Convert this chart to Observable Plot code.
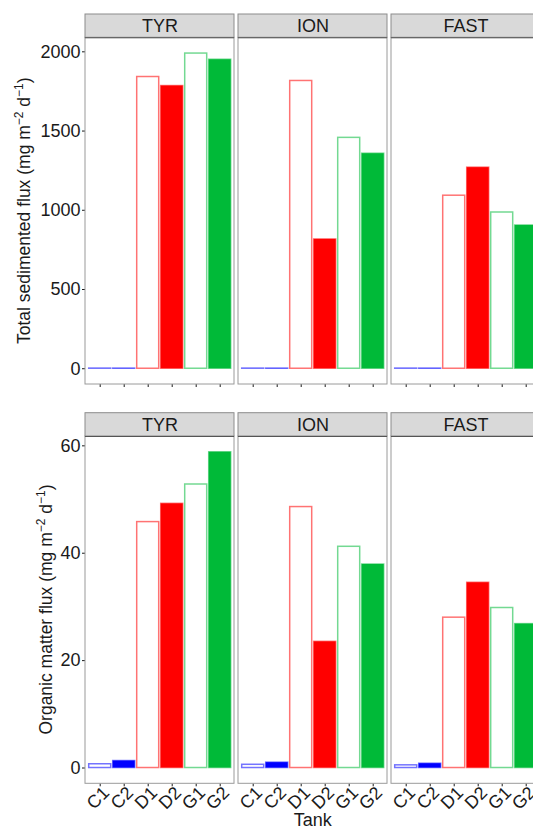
<!DOCTYPE html>
<html>
<head>
<meta charset="utf-8">
<script src="https://cdn.jsdelivr.net/npm/d3@7"></script>
<script src="https://cdn.jsdelivr.net/npm/@observablehq/plot@0.6"></script>
<style>
  html, body { margin: 0; padding: 0; background: #fff; overflow: hidden; }
  #chart { width: 545px; }
  #chart svg { display: block; }
</style>
</head>
<body>
<div id="chart"></div>
<script>
// ---- data ----
const sites = ["TYR", "ION", "FAST"];
const tanks = ["C1", "C2", "D1", "D2", "G1", "G2"];
const groups = ["C", "D", "G"];

// Total sedimented flux (mg m-2 d-1)
const totalTYR  = [1, 1, 1841, 1784, 1989, 1950];
const totalION  = [1, 1, 1816, 816, 1457, 1357];
const totalFAST = [1, 1, 1092, 1269, 986, 904];

// Organic matter flux (mg m-2 d-1)
const omTYR  = [0.7, 1.3, 45.8, 49.2, 52.8, 58.8];
const omION  = [0.6, 1.0, 48.6, 23.5, 41.2, 37.9];
const omFAST = [0.5, 0.8, 28.0, 34.5, 29.8, 26.8];

const yTicksTotal = [0, 500, 1000, 1500, 2000];
const yTicksOM = [0, 20, 40, 60];

// ---- build tables ----
function table(bySite) {
  const rows = [];
  sites.forEach((s, si) => tanks.forEach((t, ti) => rows.push({
    site: s, tank: t, group: t[0], rep: t[1], value: bySite[si][ti]
  })));
  return rows;
}
const totalData = table([totalTYR, totalION, totalFAST]);
const omData = table([omTYR, omION, omFAST]);

const groupColors = ["#0000FF", "#FF0000", "#00BA38"];
const FONT = "'Liberation Sans', Arial, Helvetica, sans-serif";
const W = 545;

function panelRow({data, yTicks, height, marginTop, marginBottom, showLabels}) {
  const max = d3.max(data, d => d.value);
  const lo = -0.05 * max, hi = 1.05 * max;
  const panelPx = height - marginTop - marginBottom - 23.3;
  const unitsPerPx = (hi - lo) / panelPx;
  const stripTop = hi + 23.3 * unitsPerPx;
  const panels = sites.map(s => ({site: s}));
  const svg = Plot.plot({
    width: W,
    height,
    marginLeft: 84.3,
    marginRight: 4,
    marginTop,
    marginBottom,
    style: {fontFamily: FONT, fontSize: "17px", color: "#1a1a1a", background: "white"},
    fx: {domain: sites, paddingInner: 0.029, paddingOuter: 0, axis: null, label: null},
    x: {domain: tanks, paddingInner: 0.1, paddingOuter: 0.15, tickSize: 3, tickPadding: 2,
        label: null, tickRotate: showLabels ? -45 : 0,
        tickFormat: showLabels ? (d => d) : (() => "")},
    y: {domain: [lo, stripTop], ticks: yTicks, tickFormat: d => String(d),
        tickSize: 3, tickPadding: 2, label: null},
    color: {domain: groups, range: groupColors},
    marks: [
      Plot.rect(panels, {fx: "site", y1: lo, y2: hi, fill: "white", stroke: "#9a9a9a", strokeWidth: 1}),
      Plot.barY(data.filter(d => d.rep === "1"), {
        fx: "site", x: "tank", y: "value", fill: "white", stroke: "group",
        strokeWidth: 1.5, strokeOpacity: 0.55
      }),
      Plot.barY(data.filter(d => d.rep === "2"), {
        fx: "site", x: "tank", y: "value", fill: "group", stroke: "group",
        strokeWidth: 1.5, strokeOpacity: 0.55
      }),
      Plot.rect(panels, {fx: "site", y1: hi, y2: stripTop, fill: "#D9D9D9", stroke: "#8c8c8c", strokeWidth: 1}),
      Plot.ruleY([hi], {stroke: "#555", strokeWidth: 1}),
      Plot.text(panels, {fx: "site", y: (hi + stripTop) / 2, text: "site", fontSize: 18, fill: "#1a1a1a"})
    ]
  });
  d3.select(svg).selectAll('g[aria-label^="x-axis"]').attr("font-size", 18);
  d3.select(svg).selectAll('g[aria-label^="y-axis"]').attr("font-size", 18);
  if (showLabels) {
    d3.select(svg).selectAll('g[aria-label^="x-axis"] text').each(function() {
      const tr = this.getAttribute("transform") || "";
      this.setAttribute("transform", "translate(6,1) " + tr);
    });
  }
  return svg;
}

function yTitle(svg, x, y, main) {
  const t = d3.select(svg).append("text")
    .attr("transform", `translate(${x},${y}) rotate(-90)`)
    .attr("text-anchor", "middle")
    .attr("font-family", FONT)
    .attr("font-size", 17.5)
    .attr("fill", "#1a1a1a");
  t.append("tspan").text(main + " (mg m");
  t.append("tspan").attr("font-size", 12).attr("dy", -7).text("\u22122");
  t.append("tspan").attr("dy", 7).text(" d");
  t.append("tspan").attr("font-size", 12).attr("dy", -7).text("\u22121");
  t.append("tspan").attr("dy", 7).text(")");
}

const chartDiv = document.getElementById("chart");

const topRow = panelRow({data: totalData, yTicks: yTicksTotal, height: 398, marginTop: 14, marginBottom: 14, showLabels: false});
yTitle(topRow, 30, 210.7, "Total sedimented flux");
chartDiv.appendChild(topRow);

const bottomRow = panelRow({data: omData, yTicks: yTicksOM, height: 433, marginTop: 14.7, marginBottom: 47.7, showLabels: true});
yTitle(bottomRow, 52, 211.5, "Organic matter flux");
d3.select(bottomRow).append("text")
  .attr("x", 312.7).attr("y", 428)
  .attr("text-anchor", "middle")
  .attr("font-family", FONT)
  .attr("font-size", 18)
  .attr("fill", "#1a1a1a")
  .text("Tank");
chartDiv.appendChild(bottomRow);
</script>
</body>
</html>
